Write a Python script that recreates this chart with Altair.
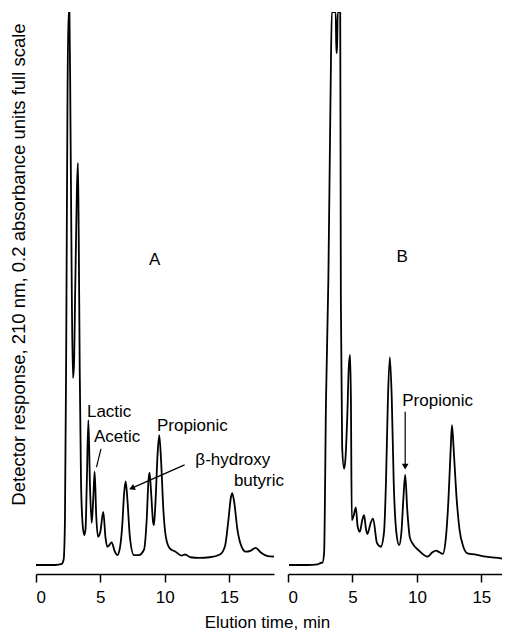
import altair as alt
import pandas as pd

# ---------------- data ----------------
# Chromatogram A: elution time (min) and detector response (% of full scale)
a_time = [0.0, 1.5, 2.0, 2.15, 2.25, 2.35, 2.45, 2.52, 2.6, 2.68, 2.78, 2.87, 2.95, 3.05, 3.18,
          3.26, 3.32, 3.4, 3.5, 3.62, 3.75, 3.85, 3.95, 4.07, 4.2, 4.33, 4.45, 4.56, 4.68, 4.82,
          5.0, 5.23, 5.4, 5.54, 5.7, 5.88, 6.1, 6.32, 6.5, 6.7, 6.85, 6.97, 7.1, 7.3, 7.61,
          8.0, 8.4, 8.6, 8.75, 8.83, 8.95, 9.1, 9.17, 9.3, 9.45, 9.58, 9.72, 9.9, 10.1, 10.4,
          10.85, 11.3, 11.6, 12.0, 12.7, 13.5, 14.3, 14.7, 14.95, 15.15, 15.25, 15.4, 15.65,
          15.95, 16.3, 16.7, 17.07, 17.5, 18.0, 18.5]
a_resp = [0.0, 0.0, 0.2, 1.0, 8, 40, 85, 100, 100, 80, 50, 33.8, 36, 50, 68,
          72.7, 60, 35, 15, 7.5, 5.4, 6.5, 15, 26.2, 14, 7.6, 12, 16.9, 9, 5.1,
          6.0, 9.6, 5.0, 3.3, 3.6, 4.1, 2.6, 1.8, 2.8, 7, 13, 15.1, 12, 5, 1.8,
          1.8, 2.8, 8, 15.5, 16.7, 13, 7.8, 7.2, 12, 20, 23.5, 19, 10, 5, 3,
          2.4, 1.7, 1.9, 1.4, 1.3, 1.4, 1.9, 3.5, 8, 12.2, 13.0, 11.5, 6.5,
          3.5, 2.4, 2.6, 3.1, 2.2, 1.6, 1.5]

# Chromatogram B
b_time = [0.08, 1.5, 2.3, 2.6, 2.67, 2.8, 2.95, 3.13, 3.3, 3.4, 3.7, 3.75, 3.8, 3.86, 4.05,
          4.1, 4.2, 4.35, 4.45, 4.6, 4.72, 4.82, 4.88, 4.95, 5.1, 5.26, 5.4, 5.57, 5.75, 5.9,
          6.05, 6.16, 6.4, 6.6, 6.9, 7.2, 7.45, 7.6, 7.75, 7.9, 8.05, 8.2, 8.4, 8.62, 8.8,
          8.95, 9.09, 9.25, 9.45, 9.66, 10.2, 10.82, 11.2, 11.47, 11.75, 12.0, 12.25, 12.45,
          12.62, 12.72, 12.85, 13.05, 13.3, 13.6, 13.93, 14.5, 15.36, 16.5, 17.4]
b_resp = [0.0, 0.0, 0.1, 0.4, 0.4, 2.2, 30, 51.5, 85, 100, 100, 92.6, 92.6, 100, 100,
          47.9, 21.4, 17.4, 19, 27, 36, 38.0, 30, 8.1, 9, 10.4, 7, 6.0, 8, 9.0,
          6.5, 5.6, 7.5, 8.4, 4, 3.3, 6, 15, 30, 37.6, 30, 15, 6, 3.6, 6,
          12, 16.3, 10, 5, 3.9, 2.5, 1.5, 2.3, 2.6, 2.3, 2.0, 5, 12,
          21, 25.3, 21, 13, 6.5, 3.3, 2.1, 1.9, 1.5, 1.2, 0.9]

# Text annotations (label, time, response, align)
a_labels = ["A", "Lactic", "Acetic", "Propionic", "\u03b2-hydroxy", "butyric"]
a_label_t = [9.22, 3.96, 4.51, 9.40, 15.3, 17.33]
a_label_v = [55.2, 27.7, 23.1, 25.2, 19.0, 15.2]
a_label_align = ["center", "left", "left", "left", "center", "center"]

b_labels = ["B", "Propionic"]
b_label_t = [8.86, 8.86]
b_label_v = [55.7, 29.7]
b_label_align = ["center", "left"]

# Pointer lines (start time, start resp, end time, end resp)
a_ptr = [(11.55, 18.1, 7.45, 13.9), (5.05, 21.0, 4.70, 17.7)]
b_ptr = [(9.09, 27.7, 9.09, 17.8)]

x_ticks = [0, 5, 10, 15]
y_title = "Detector response, 210 nm, 0.2 absorbance units full scale"
x_title = "Elution time, min"

FONT = "Liberation Sans, Arial, Helvetica, sans-serif"
Y_DOMAIN = [-1.63, 100]
PLOT_H = 562

df_a = pd.DataFrame({"t": a_time, "r": a_resp})
df_b = pd.DataFrame({"t": b_time, "r": b_resp})
lab_a = pd.DataFrame({"label": a_labels, "t": a_label_t, "r": a_label_v, "al": a_label_align})
lab_b = pd.DataFrame({"label": b_labels, "t": b_label_t, "r": b_label_v, "al": b_label_align})
ptr_a = pd.DataFrame(a_ptr, columns=["t", "r", "t2", "r2"])
ptr_b = pd.DataFrame(b_ptr, columns=["t", "r", "t2", "r2"])


def panel(df, labs, ptrs, xmax, width, show_y, arrow_angle):
    xs = alt.Scale(domain=[0, xmax], nice=False, zero=False)
    ys = alt.Scale(domain=Y_DOMAIN, nice=False, zero=False)
    xax = alt.Axis(values=x_ticks, title=None, grid=False, tickSize=8, labelPadding=7,
                   format="d")
    if show_y:
        yax = alt.Axis(title=y_title, domain=False, ticks=False, labels=False, grid=False,
                       titlePadding=8, titleY=252)
    else:
        yax = None
    line = alt.Chart(df).mark_line(color="black", strokeWidth=1.8, clip=True,
                                   interpolate="monotone").encode(
        x=alt.X("t:Q", scale=xs, axis=xax),
        y=alt.Y("r:Q", scale=ys, axis=yax),
        order="t:Q",
    )
    layers = [line]
    for al in ["left", "center"]:
        sub = labs[labs["al"] == al]
        if len(sub):
            layers.append(alt.Chart(sub).mark_text(align=al, baseline="middle", font=FONT,
                                                   fontSize=17, color="black").encode(
                x=alt.X("t:Q", scale=xs), y=alt.Y("r:Q", scale=ys), text="label:N"))
    layers.append(alt.Chart(ptrs).mark_rule(color="black", strokeWidth=1.2).encode(
        x=alt.X("t:Q", scale=xs), y=alt.Y("r:Q", scale=ys), x2="t2:Q", y2="r2:Q"))
    layers.append(alt.Chart(ptrs.head(1)).mark_point(
        shape="triangle-right", filled=True, color="black", size=45, opacity=1,
        angle=arrow_angle).encode(
        x=alt.X("t2:Q", scale=xs), y=alt.Y("r2:Q", scale=ys)))
    return alt.layer(*layers).properties(width=width, height=PLOT_H)


pa = panel(df_a, lab_a, ptr_a, 18.5, 238, True, 156)
pb = panel(df_b, lab_b, ptr_b, 16.6, 214, False, 90)

chart = alt.hconcat(pa, pb, spacing=14, bounds="flush").properties(
    padding={"left": 0, "top": 4, "right": 0, "bottom": 0},
    title=alt.TitleParams(x_title, orient="bottom", anchor="middle", font=FONT,
                          fontSize=17, fontWeight="normal", color="black", offset=10, dx=12),
).configure_view(stroke=None).configure_axis(
    labelFont=FONT, labelFontSize=17, labelColor="black", domainColor="black",
    tickColor="black", domainWidth=1.5, tickWidth=1.5, titleFont=FONT,
    titleFontSize=18.5, titleFontWeight="normal", titleColor="black",
)

chart.save("out.html", embed_options={"renderer": "svg", "actions": False})
